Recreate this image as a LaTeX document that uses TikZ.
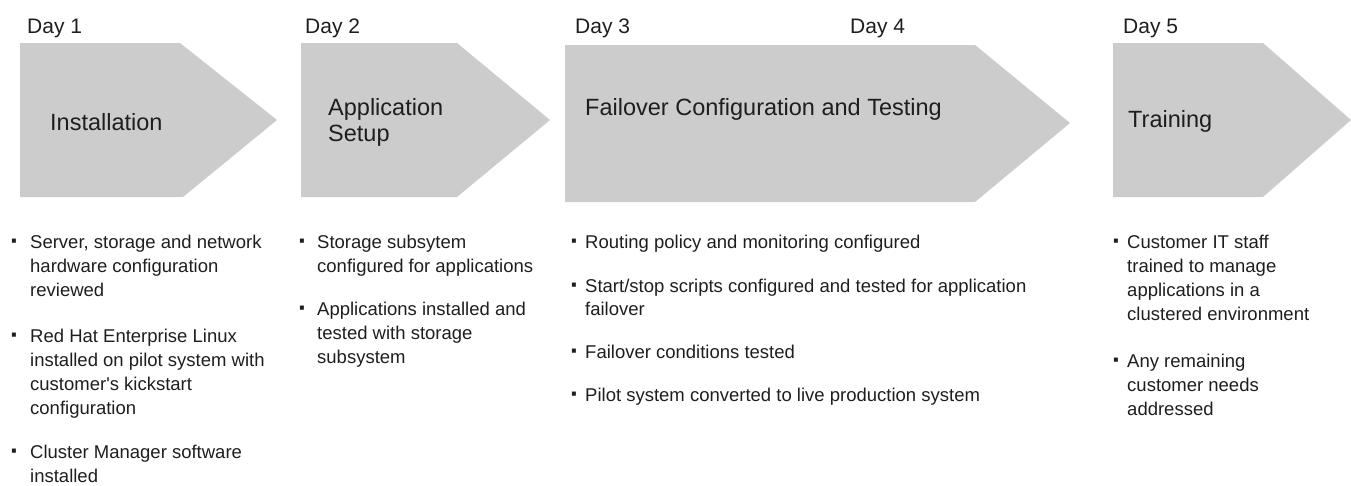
\documentclass[tikz,border=0pt]{standalone}
\usepackage{fontspec}
\setmainfont{Liberation Sans}
\definecolor{arrowgray}{RGB}{204,204,204}
\definecolor{ink}{RGB}{30,30,30}
\begin{document}
\begin{tikzpicture}[x=1pt,y=-1pt,
  stage/.style={fill=arrowgray,draw=none},
  daylbl/.style={anchor=base west,inner sep=0pt,text=ink,font=\fontsize{21}{25}\selectfont},
  ttl/.style={anchor=base west,inner sep=0pt,text=ink,font=\fontsize{23.5}{25}\selectfont},
  bul/.style={anchor=base west,inner sep=0pt,text=ink,font=\bfseries\fontsize{28}{28}\selectfont},
  item/.style={anchor=base west,inner sep=0pt,text=ink,font=\fontsize{18.5}{24}\selectfont},
  itemb/.style={anchor=base west,inner sep=0pt,text=ink,font=\fontsize{18.5}{23}\selectfont}]
\useasboundingbox (0,0) rectangle (1351,485);
% chevrons
\fill[stage] (20,43) -- (180,43) -- (277,120) -- (183,197) -- (20,197) -- cycle;
\fill[stage] (301,43) -- (457,43) -- (550,120) -- (457,197) -- (301,197) -- cycle;
\fill[stage] (565,45) -- (975,45) -- (1070,123) -- (975,202) -- (565,202) -- cycle;
\fill[stage] (1113,43) -- (1263,43) -- (1351,120) -- (1263,197) -- (1113,197) -- cycle;
% day labels
\node[daylbl] (d1) at (27,33) {Day 1};
\node[daylbl] (d2) at (305,33) {Day 2};
\node[daylbl] (d3) at (575,33) {Day 3};
\node[daylbl] (d4) at (850,33) {Day 4};
\node[daylbl] (d5) at (1123,33) {Day 5};
% titles
\node[ttl] (t1) at (50,130) {Installation};
\node[ttl,font=\fontsize{23.5}{26}\selectfont] (t2) at (328,115) {\begin{tabular}[t]{@{}l@{}}Application\\Setup\end{tabular}};
\node[ttl] (t3) at (585,115) {Failover Configuration and Testing};
\node[ttl] (t4) at (1128,127) {Training};
% column 1
\node[bul] (b11) at (10,250) {·};
\node[item] (i11) at (30,248) {\begin{tabular}[t]{@{}l@{}}Server, storage and network\\hardware configuration\\reviewed\end{tabular}};
\node[bul] (b12) at (10,344) {·};
\node[item] (i12) at (30,342) {\begin{tabular}[t]{@{}l@{}}Red Hat Enterprise Linux\\installed on pilot system with\\customer\textquotesingle s kickstart\\configuration\end{tabular}};
\node[bul] (b13) at (10,460) {·};
\node[item] (i13) at (30,458) {\begin{tabular}[t]{@{}l@{}}Cluster Manager software\\installed\end{tabular}};
% column 2
\node[bul] (b21) at (298,250) {·};
\node[item] (i21) at (317,248) {\begin{tabular}[t]{@{}l@{}}Storage subsytem\\configured for applications\end{tabular}};
\node[bul] (b22) at (298,317) {·};
\node[item] (i22) at (317,315) {\begin{tabular}[t]{@{}l@{}}Applications installed and\\tested with storage\\subsystem\end{tabular}};
% column 3
\node[bul] (b31) at (570,250) {·};
\node[itemb] (i31) at (585,248) {Routing policy and monitoring configured};
\node[bul] (b32) at (570,294) {·};
\node[itemb] (i32) at (585,292) {\begin{tabular}[t]{@{}l@{}}Start/stop scripts configured and tested for application\\failover\end{tabular}};
\node[bul] (b33) at (570,360) {·};
\node[itemb] (i33) at (585,358) {Failover conditions tested};
\node[bul] (b34) at (570,403) {·};
\node[itemb] (i34) at (585,401) {Pilot system converted to live production system};
% column 4
\node[bul] (b41) at (1112,250) {·};
\node[item] (i41) at (1127,248) {\begin{tabular}[t]{@{}l@{}}Customer IT staff\\trained to manage\\applications in a\\clustered environment\end{tabular}};
\node[bul] (b42) at (1112,369) {·};
\node[item] (i42) at (1127,367) {\begin{tabular}[t]{@{}l@{}}Any remaining\\customer needs\\addressed\end{tabular}};
\end{tikzpicture}
\end{document}
